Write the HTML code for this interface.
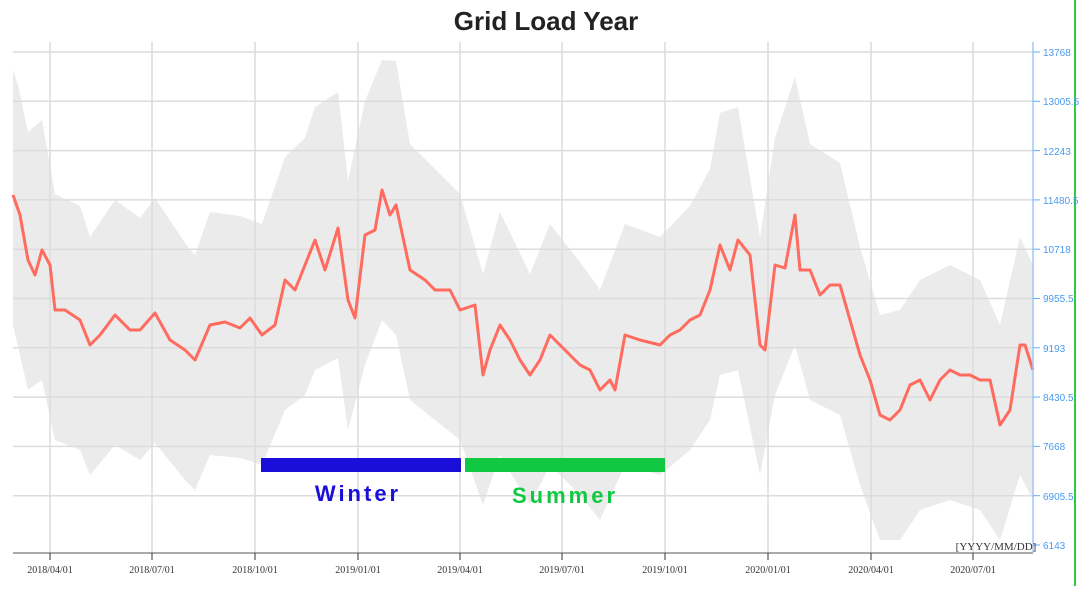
<!DOCTYPE html>
<html><head><meta charset="utf-8"><style>
body{margin:0;background:#fff;width:1079px;height:586px;overflow:hidden;font-family:"Liberation Sans",sans-serif}
</style></head><body>
<svg width="1079" height="586" xmlns="http://www.w3.org/2000/svg" font-family="Liberation Sans, sans-serif">
<text x="546" y="30" text-anchor="middle" font-weight="bold" font-size="26" fill="#222">Grid Load Year</text>
<polygon fill="#ebebeb" points="13,70 18,85 28,132 42,120 55,194 80,206 90,237 115,200 140,218 155,198 185,243 195,255 210,212 240,216 262,224 285,157 305,138 315,107 338,92 348,181 365,101 382,60 396,61 410,144 435,169 460,194 483,274 500,212 530,274 550,224 580,262 600,290 625,224 660,237 690,206 710,169 720,113 738,107 760,237 775,138 795,77 810,144 840,163 860,247 880,315 900,310 920,280 950,265 980,280 1000,325 1020,237 1033,265 1033,500 1020,475 1000,540 980,510 950,500 920,510 900,540 880,540 860,485 840,415 810,400 795,345 775,395 760,475 738,370 720,375 710,420 690,450 660,475 625,465 600,520 580,495 550,465 530,505 500,455 483,505 460,440 435,420 410,400 396,335 382,320 365,365 348,430 338,358 315,370 305,395 285,410 262,465 240,458 210,455 195,490 185,480 155,443 140,460 115,445 90,475 80,450 55,440 42,380 28,390 13,325"/>
<g stroke="#dcdcdc" stroke-width="1.5">
<line x1="13" x2="1033" y1="52" y2="52"/><line x1="13" x2="1033" y1="101.3" y2="101.3"/><line x1="13" x2="1033" y1="150.6" y2="150.6"/><line x1="13" x2="1033" y1="199.9" y2="199.9"/><line x1="13" x2="1033" y1="249.2" y2="249.2"/><line x1="13" x2="1033" y1="298.5" y2="298.5"/><line x1="13" x2="1033" y1="347.8" y2="347.8"/><line x1="13" x2="1033" y1="397.1" y2="397.1"/><line x1="13" x2="1033" y1="446.4" y2="446.4"/><line x1="13" x2="1033" y1="495.7" y2="495.7"/>
<line x1="50" x2="50" y1="42" y2="553"/><line x1="152" x2="152" y1="42" y2="553"/><line x1="255" x2="255" y1="42" y2="553"/><line x1="358" x2="358" y1="42" y2="553"/><line x1="460" x2="460" y1="42" y2="553"/><line x1="562" x2="562" y1="42" y2="553"/><line x1="665" x2="665" y1="42" y2="553"/><line x1="768" x2="768" y1="42" y2="553"/><line x1="871" x2="871" y1="42" y2="553"/><line x1="973" x2="973" y1="42" y2="553"/>
</g>
<polyline fill="none" stroke="#ff6b5e" stroke-width="3" stroke-linejoin="round" points="13,195 20,215 28,260 35,275 42,250 50,265 55,310 65,310 80,320 90,345 100,335 115,315 130,330 140,330 155,313 170,340 185,350 195,360 210,325 225,322 240,328 250,318 262,335 275,325 285,280 295,290 305,265 315,240 325,270 338,228 348,300 355,318 365,235 375,230 382,190 390,215 396,205 410,270 425,280 435,290 450,290 460,310 475,305 483,375 490,350 500,325 510,340 520,360 530,375 540,360 550,335 560,345 570,355 580,365 590,370 600,390 610,380 615,390 625,335 640,340 660,345 670,335 680,330 690,320 700,315 710,290 720,245 730,270 738,240 750,255 760,345 765,350 775,265 785,268 795,215 800,270 810,270 820,295 830,285 840,285 850,320 860,355 870,380 880,415 890,420 900,410 910,385 920,380 930,400 940,380 950,370 960,375 970,375 980,380 990,380 1000,425 1010,410 1020,345 1025,345 1033,370"/>
<line x1="13" y1="553" x2="1033" y2="553" stroke="#555" stroke-width="1"/>
<line x1="1033" y1="42" x2="1033" y2="553" stroke="#9cc8ff" stroke-width="1.5"/>
<line x1="1075" y1="0" x2="1075" y2="586" stroke="#2ecc40" stroke-width="2"/>
<g stroke="#6aaaf5"><line x1="1033" x2="1040" y1="52" y2="52"/><line x1="1033" x2="1040" y1="101.3" y2="101.3"/><line x1="1033" x2="1040" y1="150.6" y2="150.6"/><line x1="1033" x2="1040" y1="199.9" y2="199.9"/><line x1="1033" x2="1040" y1="249.2" y2="249.2"/><line x1="1033" x2="1040" y1="298.5" y2="298.5"/><line x1="1033" x2="1040" y1="347.8" y2="347.8"/><line x1="1033" x2="1040" y1="397.1" y2="397.1"/><line x1="1033" x2="1040" y1="446.4" y2="446.4"/><line x1="1033" x2="1040" y1="495.7" y2="495.7"/><line x1="1033" x2="1040" y1="545" y2="545"/></g>
<g font-size="10" fill="#4a9af0">
<text x="1043" y="56">13768</text><text x="1043" y="105">13005.5</text><text x="1043" y="155">12243</text><text x="1043" y="204">11480.5</text><text x="1043" y="253">10718</text><text x="1043" y="302">9955.5</text><text x="1043" y="352">9193</text><text x="1043" y="401">8430.5</text><text x="1043" y="450">7668</text><text x="1043" y="500">6905.5</text><text x="1043" y="549">6143</text>
</g>
<g stroke="#333"><line x1="50" x2="50" y1="553" y2="560"/><line x1="152" x2="152" y1="553" y2="560"/><line x1="255" x2="255" y1="553" y2="560"/><line x1="358" x2="358" y1="553" y2="560"/><line x1="460" x2="460" y1="553" y2="560"/><line x1="562" x2="562" y1="553" y2="560"/><line x1="665" x2="665" y1="553" y2="560"/><line x1="768" x2="768" y1="553" y2="560"/><line x1="871" x2="871" y1="553" y2="560"/><line x1="973" x2="973" y1="553" y2="560"/></g>
<g font-size="10" fill="#333" font-family="Liberation Serif, serif" text-anchor="middle">
<text x="50" y="573">2018/04/01</text><text x="152" y="573">2018/07/01</text><text x="255" y="573">2018/10/01</text><text x="358" y="573">2019/01/01</text><text x="460" y="573">2019/04/01</text><text x="562" y="573">2019/07/01</text><text x="665" y="573">2019/10/01</text><text x="768" y="573">2020/01/01</text><text x="871" y="573">2020/04/01</text><text x="973" y="573">2020/07/01</text>
</g>
<text x="996" y="550" text-anchor="middle" font-family="Liberation Serif, serif" font-size="11" fill="#333">[YYYY/MM/DD]</text>
<rect x="261" y="458" width="200" height="14" fill="#1a0fd8"/>
<rect x="465" y="458" width="200" height="14" fill="#11c843"/>
<text x="358" y="501" text-anchor="middle" font-weight="bold" font-size="22" letter-spacing="3" fill="#1a0fd8">Winter</text>
<text x="565" y="503" text-anchor="middle" font-weight="bold" font-size="22" letter-spacing="3" fill="#11c843">Summer</text>
</svg>
</body></html>
